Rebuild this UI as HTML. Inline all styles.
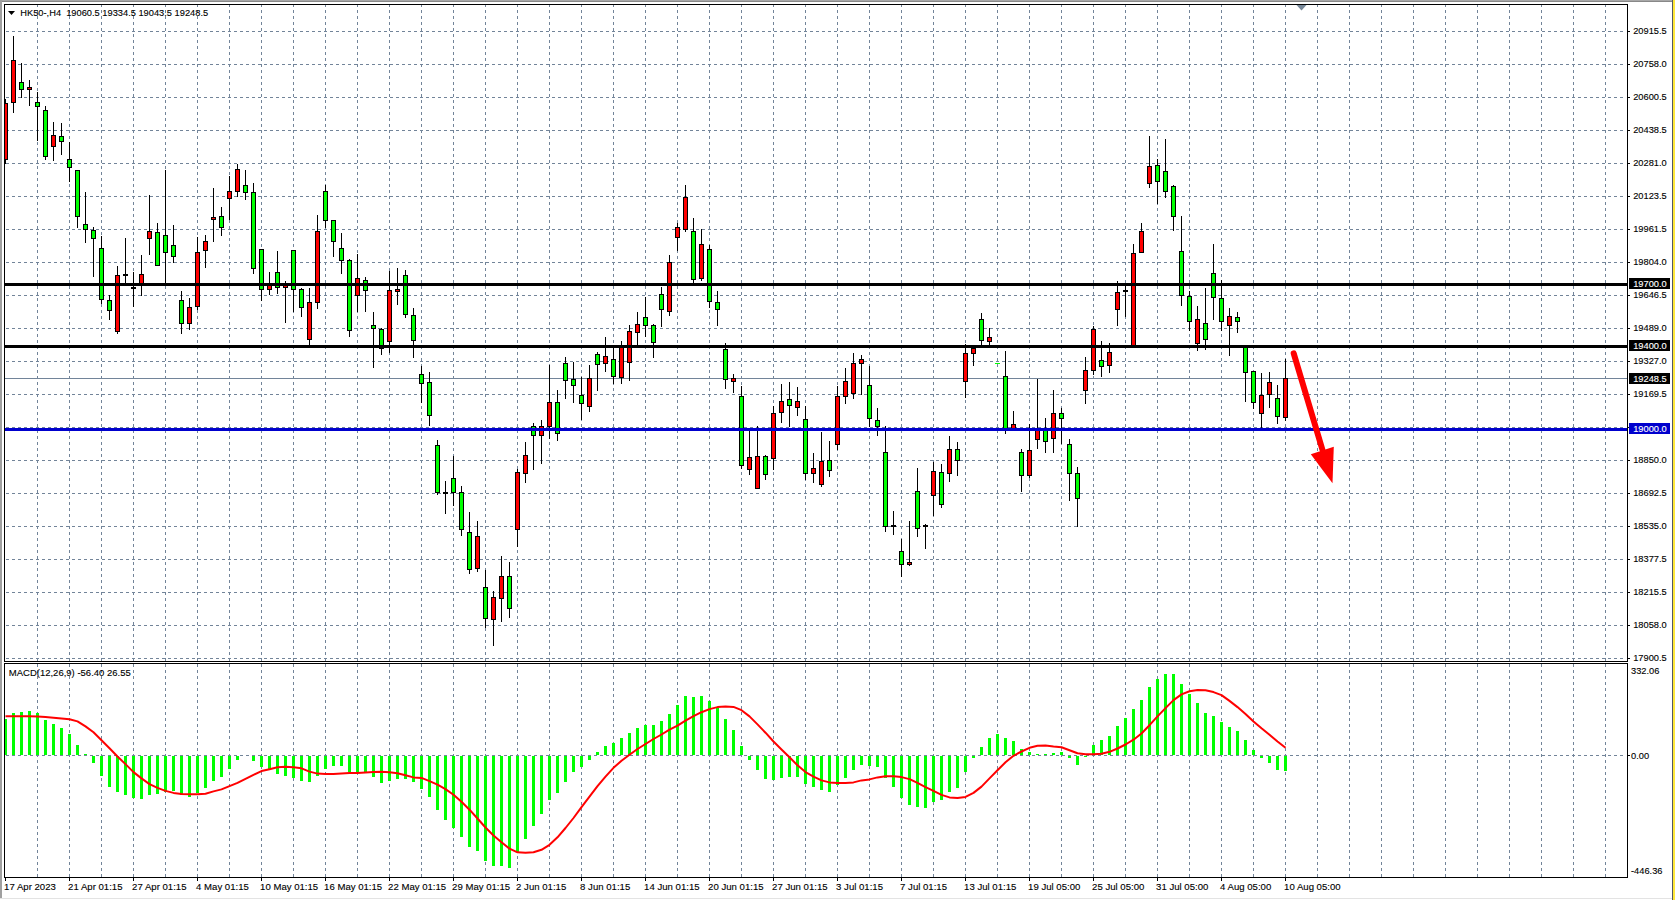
<!DOCTYPE html><html><head><meta charset="utf-8"><title>HK50-,H4</title>
<style>html,body{margin:0;padding:0;background:#fff;overflow:hidden}svg{display:block}text{font-family:"Liberation Sans",sans-serif;fill:#000;stroke:#000;stroke-width:.12px}.g{stroke:#728499;stroke-width:1;stroke-dasharray:3 3;fill:none}.w{fill:#fff}</style></head><body>
<svg width="1675" height="900" viewBox="0 0 1675 900" shape-rendering="crispEdges">
<rect width="1675" height="900" fill="#fff"/>
<rect x="0" y="0" width="1673" height="1" fill="#a8a8a8"/><rect x="0" y="1" width="1673" height="1" fill="#888"/>
<rect x="0" y="0" width="2" height="898" fill="#a0a0a0"/>
<rect x="1672" y="0" width="1" height="900" fill="#555963"/>
<rect x="1673" y="0" width="2" height="900" fill="#ffe83a"/>
<rect x="0" y="898" width="1672" height="1" fill="#e3e3e3"/>
<g class="g">
<path d="M37.5 4V661M37.5 664V877"/>
<path d="M69.5 4V661M69.5 664V877"/>
<path d="M101.5 4V661M101.5 664V877"/>
<path d="M133.5 4V661M133.5 664V877"/>
<path d="M165.5 4V661M165.5 664V877"/>
<path d="M197.5 4V661M197.5 664V877"/>
<path d="M229.5 4V661M229.5 664V877"/>
<path d="M261.5 4V661M261.5 664V877"/>
<path d="M293.5 4V661M293.5 664V877"/>
<path d="M325.5 4V661M325.5 664V877"/>
<path d="M357.5 4V661M357.5 664V877"/>
<path d="M389.5 4V661M389.5 664V877"/>
<path d="M421.5 4V661M421.5 664V877"/>
<path d="M453.5 4V661M453.5 664V877"/>
<path d="M485.5 4V661M485.5 664V877"/>
<path d="M517.5 4V661M517.5 664V877"/>
<path d="M549.5 4V661M549.5 664V877"/>
<path d="M581.5 4V661M581.5 664V877"/>
<path d="M613.5 4V661M613.5 664V877"/>
<path d="M645.5 4V661M645.5 664V877"/>
<path d="M677.5 4V661M677.5 664V877"/>
<path d="M709.5 4V661M709.5 664V877"/>
<path d="M741.5 4V661M741.5 664V877"/>
<path d="M773.5 4V661M773.5 664V877"/>
<path d="M805.5 4V661M805.5 664V877"/>
<path d="M837.5 4V661M837.5 664V877"/>
<path d="M869.5 4V661M869.5 664V877"/>
<path d="M901.5 4V661M901.5 664V877"/>
<path d="M933.5 4V661M933.5 664V877"/>
<path d="M965.5 4V661M965.5 664V877"/>
<path d="M997.5 4V661M997.5 664V877"/>
<path d="M1029.5 4V661M1029.5 664V877"/>
<path d="M1061.5 4V661M1061.5 664V877"/>
<path d="M1093.5 4V661M1093.5 664V877"/>
<path d="M1125.5 4V661M1125.5 664V877"/>
<path d="M1157.5 4V661M1157.5 664V877"/>
<path d="M1189.5 4V661M1189.5 664V877"/>
<path d="M1221.5 4V661M1221.5 664V877"/>
<path d="M1253.5 4V661M1253.5 664V877"/>
<path d="M1285.5 4V661M1285.5 664V877"/>
<path d="M1317.5 4V661M1317.5 664V877"/>
<path d="M1349.5 4V661M1349.5 664V877"/>
<path d="M1381.5 4V661M1381.5 664V877"/>
<path d="M1413.5 4V661M1413.5 664V877"/>
<path d="M1445.5 4V661M1445.5 664V877"/>
<path d="M1477.5 4V661M1477.5 664V877"/>
<path d="M1509.5 4V661M1509.5 664V877"/>
<path d="M1541.5 4V661M1541.5 664V877"/>
<path d="M1573.5 4V661M1573.5 664V877"/>
<path d="M1605.5 4V661M1605.5 664V877"/>
<path d="M6 31.5H1626"/>
<path d="M6 64.5H1626"/>
<path d="M6 97.5H1626"/>
<path d="M6 130.5H1626"/>
<path d="M6 163.5H1626"/>
<path d="M6 196.5H1626"/>
<path d="M6 229.5H1626"/>
<path d="M6 262.5H1626"/>
<path d="M6 295.5H1626"/>
<path d="M6 328.5H1626"/>
<path d="M6 361.5H1626"/>
<path d="M6 394.5H1626"/>
<path d="M6 427.5H1626"/>
<path d="M6 460.5H1626"/>
<path d="M6 493.5H1626"/>
<path d="M6 526.5H1626"/>
<path d="M6 559.5H1626"/>
<path d="M6 592.5H1626"/>
<path d="M6 625.5H1626"/>
<path d="M6 658.5H1626"/>
<path d="M6 755.5H1626"/>
</g>
<rect x="5" y="378" width="1622" height="1" fill="#728499"/>
<rect x="5" y="99" width="1" height="65"/>
<rect x="3" y="103" width="5" height="57"/>
<rect x="4" y="104" width="3" height="55" fill="#ff0000"/>
<rect x="13" y="36" width="1" height="77"/>
<rect x="11" y="60" width="5" height="43"/>
<rect x="12" y="61" width="3" height="41" fill="#ff0000"/>
<rect x="21" y="63" width="1" height="35"/>
<rect x="19" y="82" width="5" height="8"/>
<rect x="20" y="83" width="3" height="6" fill="#00ff00"/>
<rect x="29" y="80" width="1" height="26"/>
<rect x="27" y="87" width="5" height="3"/>
<rect x="28" y="88" width="3" height="1" fill="#ff0000"/>
<rect x="37" y="92" width="1" height="49"/>
<rect x="35" y="102" width="5" height="5"/>
<rect x="36" y="103" width="3" height="3" fill="#00ff00"/>
<rect x="45" y="106" width="1" height="54"/>
<rect x="43" y="110" width="5" height="47"/>
<rect x="44" y="111" width="3" height="45" fill="#00ff00"/>
<rect x="53" y="122" width="1" height="39"/>
<rect x="51" y="135" width="5" height="12"/>
<rect x="52" y="136" width="3" height="10" fill="#ff0000"/>
<rect x="61" y="123" width="1" height="32"/>
<rect x="59" y="136" width="5" height="6"/>
<rect x="60" y="137" width="3" height="4" fill="#00ff00"/>
<rect x="69" y="142" width="1" height="40"/>
<rect x="67" y="159" width="5" height="9"/>
<rect x="68" y="160" width="3" height="7" fill="#00ff00"/>
<rect x="77" y="170" width="1" height="58"/>
<rect x="75" y="170" width="5" height="47"/>
<rect x="76" y="171" width="3" height="45" fill="#00ff00"/>
<rect x="85" y="192" width="1" height="51"/>
<rect x="83" y="224" width="5" height="6"/>
<rect x="84" y="225" width="3" height="4" fill="#00ff00"/>
<rect x="93" y="227" width="1" height="50"/>
<rect x="91" y="230" width="5" height="9"/>
<rect x="92" y="231" width="3" height="7" fill="#00ff00"/>
<rect x="101" y="236" width="1" height="68"/>
<rect x="99" y="248" width="5" height="52"/>
<rect x="100" y="249" width="3" height="50" fill="#00ff00"/>
<rect x="109" y="295" width="1" height="25"/>
<rect x="107" y="300" width="5" height="11"/>
<rect x="108" y="301" width="3" height="9" fill="#00ff00"/>
<rect x="117" y="266" width="1" height="68"/>
<rect x="115" y="275" width="5" height="57"/>
<rect x="116" y="276" width="3" height="55" fill="#ff0000"/>
<rect x="125" y="238" width="1" height="46"/>
<rect x="123" y="274" width="5" height="2"/>
<rect x="133" y="272" width="1" height="35"/>
<rect x="131" y="287" width="5" height="2"/>
<rect x="141" y="255" width="1" height="41"/>
<rect x="139" y="274" width="5" height="12"/>
<rect x="140" y="275" width="3" height="10" fill="#ff0000"/>
<rect x="149" y="195" width="1" height="60"/>
<rect x="147" y="231" width="5" height="8"/>
<rect x="148" y="232" width="3" height="6" fill="#ff0000"/>
<rect x="157" y="223" width="1" height="43"/>
<rect x="155" y="232" width="5" height="34"/>
<rect x="156" y="233" width="3" height="32" fill="#00ff00"/>
<rect x="165" y="170" width="1" height="114"/>
<rect x="163" y="235" width="5" height="18"/>
<rect x="164" y="236" width="3" height="16" fill="#00ff00"/>
<rect x="173" y="225" width="1" height="38"/>
<rect x="171" y="245" width="5" height="12"/>
<rect x="172" y="246" width="3" height="10" fill="#00ff00"/>
<rect x="181" y="291" width="1" height="43"/>
<rect x="179" y="300" width="5" height="24"/>
<rect x="180" y="301" width="3" height="22" fill="#00ff00"/>
<rect x="189" y="298" width="1" height="32"/>
<rect x="187" y="307" width="5" height="17"/>
<rect x="188" y="308" width="3" height="15" fill="#ff0000"/>
<rect x="197" y="237" width="1" height="73"/>
<rect x="195" y="252" width="5" height="55"/>
<rect x="196" y="253" width="3" height="53" fill="#ff0000"/>
<rect x="205" y="235" width="1" height="33"/>
<rect x="203" y="241" width="5" height="10"/>
<rect x="204" y="242" width="3" height="8" fill="#ff0000"/>
<rect x="213" y="188" width="1" height="54"/>
<rect x="211" y="217" width="5" height="3"/>
<rect x="212" y="218" width="3" height="1" fill="#ff0000"/>
<rect x="221" y="207" width="1" height="29"/>
<rect x="219" y="216" width="5" height="12"/>
<rect x="220" y="217" width="3" height="10" fill="#00ff00"/>
<rect x="229" y="176" width="1" height="44"/>
<rect x="227" y="191" width="5" height="8"/>
<rect x="228" y="192" width="3" height="6" fill="#ff0000"/>
<rect x="237" y="164" width="1" height="33"/>
<rect x="235" y="169" width="5" height="23"/>
<rect x="236" y="170" width="3" height="21" fill="#ff0000"/>
<rect x="245" y="170" width="1" height="30"/>
<rect x="243" y="185" width="5" height="8"/>
<rect x="244" y="186" width="3" height="6" fill="#00ff00"/>
<rect x="253" y="183" width="1" height="91"/>
<rect x="251" y="192" width="5" height="77"/>
<rect x="252" y="193" width="3" height="75" fill="#00ff00"/>
<rect x="261" y="249" width="1" height="52"/>
<rect x="259" y="249" width="5" height="41"/>
<rect x="260" y="250" width="3" height="39" fill="#00ff00"/>
<rect x="269" y="272" width="1" height="23"/>
<rect x="267" y="285" width="5" height="5"/>
<rect x="268" y="286" width="3" height="3" fill="#ff0000"/>
<rect x="277" y="251" width="1" height="43"/>
<rect x="275" y="272" width="5" height="16"/>
<rect x="276" y="273" width="3" height="14" fill="#00ff00"/>
<rect x="285" y="281" width="1" height="42"/>
<rect x="283" y="285" width="5" height="3"/>
<rect x="284" y="286" width="3" height="1" fill="#ff0000"/>
<rect x="293" y="250" width="1" height="62"/>
<rect x="291" y="250" width="5" height="40"/>
<rect x="292" y="251" width="3" height="38" fill="#00ff00"/>
<rect x="301" y="288" width="1" height="29"/>
<rect x="299" y="289" width="5" height="19"/>
<rect x="300" y="290" width="3" height="17" fill="#00ff00"/>
<rect x="309" y="288" width="1" height="59"/>
<rect x="307" y="302" width="5" height="38"/>
<rect x="308" y="303" width="3" height="36" fill="#ff0000"/>
<rect x="317" y="215" width="1" height="94"/>
<rect x="315" y="231" width="5" height="72"/>
<rect x="316" y="232" width="3" height="70" fill="#ff0000"/>
<rect x="325" y="185" width="1" height="43"/>
<rect x="323" y="191" width="5" height="30"/>
<rect x="324" y="192" width="3" height="28" fill="#00ff00"/>
<rect x="333" y="220" width="1" height="37"/>
<rect x="331" y="220" width="5" height="22"/>
<rect x="332" y="221" width="3" height="20" fill="#00ff00"/>
<rect x="341" y="233" width="1" height="41"/>
<rect x="339" y="248" width="5" height="13"/>
<rect x="340" y="249" width="3" height="11" fill="#00ff00"/>
<rect x="349" y="259" width="1" height="78"/>
<rect x="347" y="260" width="5" height="71"/>
<rect x="348" y="261" width="3" height="69" fill="#00ff00"/>
<rect x="357" y="254" width="1" height="58"/>
<rect x="355" y="278" width="5" height="18"/>
<rect x="356" y="279" width="3" height="16" fill="#ff0000"/>
<rect x="365" y="277" width="1" height="35"/>
<rect x="363" y="280" width="5" height="11"/>
<rect x="364" y="281" width="3" height="9" fill="#00ff00"/>
<rect x="373" y="312" width="1" height="56"/>
<rect x="371" y="325" width="5" height="4"/>
<rect x="372" y="326" width="3" height="2" fill="#00ff00"/>
<rect x="381" y="328" width="1" height="27"/>
<rect x="379" y="329" width="5" height="20"/>
<rect x="380" y="330" width="3" height="18" fill="#00ff00"/>
<rect x="389" y="271" width="1" height="82"/>
<rect x="387" y="290" width="5" height="52"/>
<rect x="388" y="291" width="3" height="50" fill="#ff0000"/>
<rect x="397" y="268" width="1" height="37"/>
<rect x="395" y="289" width="5" height="3"/>
<rect x="396" y="290" width="3" height="1" fill="#ff0000"/>
<rect x="405" y="270" width="1" height="48"/>
<rect x="403" y="275" width="5" height="40"/>
<rect x="404" y="276" width="3" height="38" fill="#00ff00"/>
<rect x="413" y="308" width="1" height="50"/>
<rect x="411" y="315" width="5" height="26"/>
<rect x="412" y="316" width="3" height="24" fill="#00ff00"/>
<rect x="421" y="366" width="1" height="37"/>
<rect x="419" y="374" width="5" height="10"/>
<rect x="420" y="375" width="3" height="8" fill="#00ff00"/>
<rect x="429" y="372" width="1" height="54"/>
<rect x="427" y="382" width="5" height="34"/>
<rect x="428" y="383" width="3" height="32" fill="#00ff00"/>
<rect x="437" y="440" width="1" height="55"/>
<rect x="435" y="445" width="5" height="48"/>
<rect x="436" y="446" width="3" height="46" fill="#00ff00"/>
<rect x="445" y="481" width="1" height="33"/>
<rect x="443" y="492" width="5" height="2"/>
<rect x="453" y="456" width="1" height="50"/>
<rect x="451" y="478" width="5" height="15"/>
<rect x="452" y="479" width="3" height="13" fill="#00ff00"/>
<rect x="461" y="486" width="1" height="50"/>
<rect x="459" y="492" width="5" height="38"/>
<rect x="460" y="493" width="3" height="36" fill="#00ff00"/>
<rect x="469" y="512" width="1" height="62"/>
<rect x="467" y="532" width="5" height="38"/>
<rect x="468" y="533" width="3" height="36" fill="#00ff00"/>
<rect x="477" y="521" width="1" height="51"/>
<rect x="475" y="536" width="5" height="33"/>
<rect x="476" y="537" width="3" height="31" fill="#ff0000"/>
<rect x="485" y="570" width="1" height="58"/>
<rect x="483" y="587" width="5" height="32"/>
<rect x="484" y="588" width="3" height="30" fill="#00ff00"/>
<rect x="493" y="591" width="1" height="55"/>
<rect x="491" y="597" width="5" height="23"/>
<rect x="492" y="598" width="3" height="21" fill="#ff0000"/>
<rect x="501" y="556" width="1" height="66"/>
<rect x="499" y="576" width="5" height="23"/>
<rect x="500" y="577" width="3" height="21" fill="#ff0000"/>
<rect x="509" y="562" width="1" height="56"/>
<rect x="507" y="576" width="5" height="33"/>
<rect x="508" y="577" width="3" height="31" fill="#00ff00"/>
<rect x="517" y="469" width="1" height="78"/>
<rect x="515" y="472" width="5" height="58"/>
<rect x="516" y="473" width="3" height="56" fill="#ff0000"/>
<rect x="525" y="442" width="1" height="41"/>
<rect x="523" y="455" width="5" height="19"/>
<rect x="524" y="456" width="3" height="17" fill="#ff0000"/>
<rect x="533" y="423" width="1" height="47"/>
<rect x="531" y="426" width="5" height="10"/>
<rect x="532" y="427" width="3" height="8" fill="#00ff00"/>
<rect x="541" y="420" width="1" height="44"/>
<rect x="539" y="426" width="5" height="10"/>
<rect x="540" y="427" width="3" height="8" fill="#ff0000"/>
<rect x="549" y="365" width="1" height="74"/>
<rect x="547" y="402" width="5" height="25"/>
<rect x="548" y="403" width="3" height="23" fill="#ff0000"/>
<rect x="557" y="390" width="1" height="51"/>
<rect x="555" y="402" width="5" height="32"/>
<rect x="556" y="403" width="3" height="30" fill="#00ff00"/>
<rect x="565" y="357" width="1" height="42"/>
<rect x="563" y="363" width="5" height="18"/>
<rect x="564" y="364" width="3" height="16" fill="#00ff00"/>
<rect x="573" y="362" width="1" height="41"/>
<rect x="571" y="379" width="5" height="7"/>
<rect x="572" y="380" width="3" height="5" fill="#00ff00"/>
<rect x="581" y="377" width="1" height="43"/>
<rect x="579" y="395" width="5" height="9"/>
<rect x="580" y="396" width="3" height="7" fill="#00ff00"/>
<rect x="589" y="365" width="1" height="47"/>
<rect x="587" y="378" width="5" height="29"/>
<rect x="588" y="379" width="3" height="27" fill="#ff0000"/>
<rect x="597" y="352" width="1" height="39"/>
<rect x="595" y="354" width="5" height="11"/>
<rect x="596" y="355" width="3" height="9" fill="#00ff00"/>
<rect x="605" y="337" width="1" height="35"/>
<rect x="603" y="356" width="5" height="8"/>
<rect x="604" y="357" width="3" height="6" fill="#ff0000"/>
<rect x="613" y="347" width="1" height="37"/>
<rect x="611" y="359" width="5" height="18"/>
<rect x="612" y="360" width="3" height="16" fill="#00ff00"/>
<rect x="621" y="341" width="1" height="43"/>
<rect x="619" y="347" width="5" height="31"/>
<rect x="620" y="348" width="3" height="29" fill="#ff0000"/>
<rect x="629" y="325" width="1" height="56"/>
<rect x="627" y="331" width="5" height="32"/>
<rect x="628" y="332" width="3" height="30" fill="#ff0000"/>
<rect x="637" y="312" width="1" height="34"/>
<rect x="635" y="324" width="5" height="9"/>
<rect x="636" y="325" width="3" height="7" fill="#ff0000"/>
<rect x="645" y="297" width="1" height="40"/>
<rect x="643" y="317" width="5" height="9"/>
<rect x="644" y="318" width="3" height="7" fill="#00ff00"/>
<rect x="653" y="324" width="1" height="34"/>
<rect x="651" y="325" width="5" height="18"/>
<rect x="652" y="326" width="3" height="16" fill="#00ff00"/>
<rect x="661" y="287" width="1" height="40"/>
<rect x="659" y="294" width="5" height="16"/>
<rect x="660" y="295" width="3" height="14" fill="#00ff00"/>
<rect x="669" y="255" width="1" height="61"/>
<rect x="667" y="262" width="5" height="50"/>
<rect x="668" y="263" width="3" height="48" fill="#ff0000"/>
<rect x="677" y="223" width="1" height="28"/>
<rect x="675" y="227" width="5" height="11"/>
<rect x="676" y="228" width="3" height="9" fill="#ff0000"/>
<rect x="685" y="185" width="1" height="47"/>
<rect x="683" y="197" width="5" height="33"/>
<rect x="684" y="198" width="3" height="31" fill="#ff0000"/>
<rect x="693" y="218" width="1" height="65"/>
<rect x="691" y="231" width="5" height="49"/>
<rect x="692" y="232" width="3" height="47" fill="#00ff00"/>
<rect x="701" y="229" width="1" height="52"/>
<rect x="699" y="244" width="5" height="35"/>
<rect x="700" y="245" width="3" height="33" fill="#ff0000"/>
<rect x="709" y="245" width="1" height="63"/>
<rect x="707" y="249" width="5" height="53"/>
<rect x="708" y="250" width="3" height="51" fill="#00ff00"/>
<rect x="717" y="291" width="1" height="35"/>
<rect x="715" y="302" width="5" height="8"/>
<rect x="716" y="303" width="3" height="6" fill="#00ff00"/>
<rect x="725" y="343" width="1" height="46"/>
<rect x="723" y="349" width="5" height="31"/>
<rect x="724" y="350" width="3" height="29" fill="#00ff00"/>
<rect x="733" y="374" width="1" height="19"/>
<rect x="731" y="378" width="5" height="4"/>
<rect x="732" y="379" width="3" height="2" fill="#ff0000"/>
<rect x="741" y="386" width="1" height="83"/>
<rect x="739" y="396" width="5" height="70"/>
<rect x="740" y="397" width="3" height="68" fill="#00ff00"/>
<rect x="749" y="430" width="1" height="45"/>
<rect x="747" y="457" width="5" height="13"/>
<rect x="748" y="458" width="3" height="11" fill="#ff0000"/>
<rect x="757" y="426" width="1" height="63"/>
<rect x="755" y="456" width="5" height="33"/>
<rect x="756" y="457" width="3" height="31" fill="#ff0000"/>
<rect x="765" y="455" width="1" height="25"/>
<rect x="763" y="456" width="5" height="19"/>
<rect x="764" y="457" width="3" height="17" fill="#00ff00"/>
<rect x="773" y="406" width="1" height="64"/>
<rect x="771" y="413" width="5" height="46"/>
<rect x="772" y="414" width="3" height="44" fill="#ff0000"/>
<rect x="781" y="384" width="1" height="39"/>
<rect x="779" y="401" width="5" height="12"/>
<rect x="780" y="402" width="3" height="10" fill="#ff0000"/>
<rect x="789" y="382" width="1" height="45"/>
<rect x="787" y="399" width="5" height="7"/>
<rect x="788" y="400" width="3" height="5" fill="#00ff00"/>
<rect x="797" y="387" width="1" height="29"/>
<rect x="795" y="401" width="5" height="7"/>
<rect x="796" y="402" width="3" height="5" fill="#ff0000"/>
<rect x="805" y="406" width="1" height="74"/>
<rect x="803" y="419" width="5" height="55"/>
<rect x="804" y="420" width="3" height="53" fill="#00ff00"/>
<rect x="813" y="453" width="1" height="30"/>
<rect x="811" y="468" width="5" height="6"/>
<rect x="812" y="469" width="3" height="4" fill="#ff0000"/>
<rect x="821" y="432" width="1" height="55"/>
<rect x="819" y="461" width="5" height="24"/>
<rect x="820" y="462" width="3" height="22" fill="#ff0000"/>
<rect x="829" y="441" width="1" height="36"/>
<rect x="827" y="460" width="5" height="11"/>
<rect x="828" y="461" width="3" height="9" fill="#00ff00"/>
<rect x="837" y="386" width="1" height="64"/>
<rect x="835" y="396" width="5" height="49"/>
<rect x="836" y="397" width="3" height="47" fill="#ff0000"/>
<rect x="845" y="368" width="1" height="36"/>
<rect x="843" y="381" width="5" height="16"/>
<rect x="844" y="382" width="3" height="14" fill="#ff0000"/>
<rect x="853" y="353" width="1" height="46"/>
<rect x="851" y="363" width="5" height="31"/>
<rect x="852" y="364" width="3" height="29" fill="#ff0000"/>
<rect x="861" y="355" width="1" height="40"/>
<rect x="859" y="359" width="5" height="5"/>
<rect x="860" y="360" width="3" height="3" fill="#ff0000"/>
<rect x="869" y="366" width="1" height="61"/>
<rect x="867" y="385" width="5" height="34"/>
<rect x="868" y="386" width="3" height="32" fill="#00ff00"/>
<rect x="877" y="408" width="1" height="28"/>
<rect x="875" y="420" width="5" height="7"/>
<rect x="876" y="421" width="3" height="5" fill="#00ff00"/>
<rect x="885" y="426" width="1" height="106"/>
<rect x="883" y="452" width="5" height="75"/>
<rect x="884" y="453" width="3" height="73" fill="#00ff00"/>
<rect x="893" y="511" width="1" height="24"/>
<rect x="891" y="525" width="5" height="2"/>
<rect x="901" y="539" width="1" height="38"/>
<rect x="899" y="551" width="5" height="14"/>
<rect x="900" y="552" width="3" height="12" fill="#00ff00"/>
<rect x="909" y="521" width="1" height="45"/>
<rect x="907" y="562" width="5" height="3"/>
<rect x="908" y="563" width="3" height="1" fill="#ff0000"/>
<rect x="917" y="468" width="1" height="69"/>
<rect x="915" y="491" width="5" height="38"/>
<rect x="916" y="492" width="3" height="36" fill="#00ff00"/>
<rect x="925" y="524" width="1" height="25"/>
<rect x="923" y="525" width="5" height="2"/>
<rect x="933" y="462" width="1" height="54"/>
<rect x="931" y="471" width="5" height="25"/>
<rect x="932" y="472" width="3" height="23" fill="#ff0000"/>
<rect x="941" y="464" width="1" height="44"/>
<rect x="939" y="472" width="5" height="33"/>
<rect x="940" y="473" width="3" height="31" fill="#00ff00"/>
<rect x="949" y="436" width="1" height="46"/>
<rect x="947" y="449" width="5" height="25"/>
<rect x="948" y="450" width="3" height="23" fill="#ff0000"/>
<rect x="957" y="442" width="1" height="34"/>
<rect x="955" y="449" width="5" height="12"/>
<rect x="956" y="450" width="3" height="10" fill="#00ff00"/>
<rect x="965" y="344" width="1" height="54"/>
<rect x="963" y="353" width="5" height="29"/>
<rect x="964" y="354" width="3" height="27" fill="#ff0000"/>
<rect x="973" y="347" width="1" height="19"/>
<rect x="971" y="348" width="5" height="6"/>
<rect x="972" y="349" width="3" height="4" fill="#ff0000"/>
<rect x="981" y="313" width="1" height="33"/>
<rect x="979" y="319" width="5" height="22"/>
<rect x="980" y="320" width="3" height="20" fill="#00ff00"/>
<rect x="989" y="328" width="1" height="18"/>
<rect x="987" y="337" width="5" height="5"/>
<rect x="988" y="338" width="3" height="3" fill="#ff0000"/>
<rect x="1005" y="351" width="1" height="83"/>
<rect x="1003" y="376" width="5" height="53"/>
<rect x="1004" y="377" width="3" height="51" fill="#00ff00"/>
<rect x="1013" y="411" width="1" height="20"/>
<rect x="1011" y="424" width="5" height="6"/>
<rect x="1012" y="425" width="3" height="4" fill="#ff0000"/>
<rect x="1021" y="449" width="1" height="43"/>
<rect x="1019" y="452" width="5" height="24"/>
<rect x="1020" y="453" width="3" height="22" fill="#00ff00"/>
<rect x="1029" y="424" width="1" height="54"/>
<rect x="1027" y="450" width="5" height="26"/>
<rect x="1028" y="451" width="3" height="24" fill="#ff0000"/>
<rect x="1037" y="379" width="1" height="70"/>
<rect x="1035" y="430" width="5" height="10"/>
<rect x="1036" y="431" width="3" height="8" fill="#ff0000"/>
<rect x="1045" y="418" width="1" height="35"/>
<rect x="1043" y="428" width="5" height="14"/>
<rect x="1044" y="429" width="3" height="12" fill="#00ff00"/>
<rect x="1053" y="390" width="1" height="63"/>
<rect x="1051" y="413" width="5" height="26"/>
<rect x="1052" y="414" width="3" height="24" fill="#ff0000"/>
<rect x="1061" y="408" width="1" height="36"/>
<rect x="1059" y="413" width="5" height="6"/>
<rect x="1060" y="414" width="3" height="4" fill="#00ff00"/>
<rect x="1069" y="439" width="1" height="62"/>
<rect x="1067" y="444" width="5" height="30"/>
<rect x="1068" y="445" width="3" height="28" fill="#00ff00"/>
<rect x="1077" y="467" width="1" height="60"/>
<rect x="1075" y="473" width="5" height="26"/>
<rect x="1076" y="474" width="3" height="24" fill="#00ff00"/>
<rect x="1085" y="357" width="1" height="47"/>
<rect x="1083" y="370" width="5" height="21"/>
<rect x="1084" y="371" width="3" height="19" fill="#ff0000"/>
<rect x="1093" y="326" width="1" height="49"/>
<rect x="1091" y="329" width="5" height="42"/>
<rect x="1092" y="330" width="3" height="40" fill="#ff0000"/>
<rect x="1101" y="341" width="1" height="36"/>
<rect x="1099" y="360" width="5" height="7"/>
<rect x="1100" y="361" width="3" height="5" fill="#00ff00"/>
<rect x="1109" y="343" width="1" height="30"/>
<rect x="1107" y="352" width="5" height="14"/>
<rect x="1108" y="353" width="3" height="12" fill="#ff0000"/>
<rect x="1117" y="281" width="1" height="45"/>
<rect x="1115" y="292" width="5" height="18"/>
<rect x="1116" y="293" width="3" height="16" fill="#ff0000"/>
<rect x="1125" y="285" width="1" height="32"/>
<rect x="1123" y="290" width="5" height="2"/>
<rect x="1133" y="244" width="1" height="103"/>
<rect x="1131" y="253" width="5" height="94"/>
<rect x="1132" y="254" width="3" height="92" fill="#ff0000"/>
<rect x="1141" y="223" width="1" height="30"/>
<rect x="1139" y="231" width="5" height="22"/>
<rect x="1140" y="232" width="3" height="20" fill="#ff0000"/>
<rect x="1149" y="136" width="1" height="52"/>
<rect x="1147" y="166" width="5" height="18"/>
<rect x="1148" y="167" width="3" height="16" fill="#ff0000"/>
<rect x="1157" y="159" width="1" height="45"/>
<rect x="1155" y="165" width="5" height="17"/>
<rect x="1156" y="166" width="3" height="15" fill="#00ff00"/>
<rect x="1165" y="139" width="1" height="59"/>
<rect x="1163" y="171" width="5" height="21"/>
<rect x="1164" y="172" width="3" height="19" fill="#00ff00"/>
<rect x="1173" y="185" width="1" height="46"/>
<rect x="1171" y="186" width="5" height="31"/>
<rect x="1172" y="187" width="3" height="29" fill="#00ff00"/>
<rect x="1181" y="216" width="1" height="90"/>
<rect x="1179" y="251" width="5" height="45"/>
<rect x="1180" y="252" width="3" height="43" fill="#00ff00"/>
<rect x="1189" y="291" width="1" height="40"/>
<rect x="1187" y="296" width="5" height="26"/>
<rect x="1188" y="297" width="3" height="24" fill="#00ff00"/>
<rect x="1197" y="306" width="1" height="45"/>
<rect x="1195" y="319" width="5" height="25"/>
<rect x="1196" y="320" width="3" height="23" fill="#ff0000"/>
<rect x="1205" y="288" width="1" height="62"/>
<rect x="1203" y="323" width="5" height="17"/>
<rect x="1204" y="324" width="3" height="15" fill="#00ff00"/>
<rect x="1213" y="244" width="1" height="76"/>
<rect x="1211" y="273" width="5" height="25"/>
<rect x="1212" y="274" width="3" height="23" fill="#00ff00"/>
<rect x="1221" y="280" width="1" height="51"/>
<rect x="1219" y="298" width="5" height="24"/>
<rect x="1220" y="299" width="3" height="22" fill="#00ff00"/>
<rect x="1229" y="308" width="1" height="48"/>
<rect x="1227" y="316" width="5" height="10"/>
<rect x="1228" y="317" width="3" height="8" fill="#ff0000"/>
<rect x="1237" y="312" width="1" height="21"/>
<rect x="1235" y="317" width="5" height="5"/>
<rect x="1236" y="318" width="3" height="3" fill="#00ff00"/>
<rect x="1245" y="346" width="1" height="56"/>
<rect x="1243" y="346" width="5" height="27"/>
<rect x="1244" y="347" width="3" height="25" fill="#00ff00"/>
<rect x="1253" y="371" width="1" height="38"/>
<rect x="1251" y="371" width="5" height="32"/>
<rect x="1252" y="372" width="3" height="30" fill="#00ff00"/>
<rect x="1261" y="373" width="1" height="55"/>
<rect x="1259" y="395" width="5" height="19"/>
<rect x="1260" y="396" width="3" height="17" fill="#ff0000"/>
<rect x="1269" y="372" width="1" height="36"/>
<rect x="1267" y="382" width="5" height="13"/>
<rect x="1268" y="383" width="3" height="11" fill="#ff0000"/>
<rect x="1277" y="385" width="1" height="39"/>
<rect x="1275" y="398" width="5" height="19"/>
<rect x="1276" y="399" width="3" height="17" fill="#00ff00"/>
<rect x="1285" y="359" width="1" height="62"/>
<rect x="1283" y="378" width="5" height="40"/>
<rect x="1284" y="379" width="3" height="38" fill="#ff0000"/>
<rect x="995" y="363" width="5" height="1" fill="#00ff00"/>
<rect x="4" y="719" width="3" height="36" fill="#00ff00"/>
<rect x="12" y="713" width="3" height="42" fill="#00ff00"/>
<rect x="20" y="712" width="3" height="43" fill="#00ff00"/>
<rect x="28" y="711" width="3" height="44" fill="#00ff00"/>
<rect x="36" y="713" width="3" height="42" fill="#00ff00"/>
<rect x="44" y="720" width="3" height="35" fill="#00ff00"/>
<rect x="52" y="724" width="3" height="31" fill="#00ff00"/>
<rect x="60" y="728" width="3" height="27" fill="#00ff00"/>
<rect x="68" y="734" width="3" height="21" fill="#00ff00"/>
<rect x="76" y="745" width="3" height="10" fill="#00ff00"/>
<rect x="84" y="754" width="3" height="1" fill="#00ff00"/>
<rect x="92" y="756" width="3" height="7" fill="#00ff00"/>
<rect x="100" y="756" width="3" height="20" fill="#00ff00"/>
<rect x="108" y="756" width="3" height="31" fill="#00ff00"/>
<rect x="116" y="756" width="3" height="36" fill="#00ff00"/>
<rect x="124" y="756" width="3" height="39" fill="#00ff00"/>
<rect x="132" y="756" width="3" height="42" fill="#00ff00"/>
<rect x="140" y="756" width="3" height="43" fill="#00ff00"/>
<rect x="148" y="756" width="3" height="39" fill="#00ff00"/>
<rect x="156" y="756" width="3" height="38" fill="#00ff00"/>
<rect x="164" y="756" width="3" height="36" fill="#00ff00"/>
<rect x="172" y="756" width="3" height="35" fill="#00ff00"/>
<rect x="180" y="756" width="3" height="39" fill="#00ff00"/>
<rect x="188" y="756" width="3" height="41" fill="#00ff00"/>
<rect x="196" y="756" width="3" height="37" fill="#00ff00"/>
<rect x="204" y="756" width="3" height="32" fill="#00ff00"/>
<rect x="212" y="756" width="3" height="25" fill="#00ff00"/>
<rect x="220" y="756" width="3" height="21" fill="#00ff00"/>
<rect x="228" y="756" width="3" height="13" fill="#00ff00"/>
<rect x="236" y="756" width="3" height="4" fill="#00ff00"/>
<rect x="252" y="756" width="3" height="5" fill="#00ff00"/>
<rect x="260" y="756" width="3" height="11" fill="#00ff00"/>
<rect x="268" y="756" width="3" height="14" fill="#00ff00"/>
<rect x="276" y="756" width="3" height="18" fill="#00ff00"/>
<rect x="284" y="756" width="3" height="20" fill="#00ff00"/>
<rect x="292" y="756" width="3" height="22" fill="#00ff00"/>
<rect x="300" y="756" width="3" height="25" fill="#00ff00"/>
<rect x="308" y="756" width="3" height="26" fill="#00ff00"/>
<rect x="316" y="756" width="3" height="20" fill="#00ff00"/>
<rect x="324" y="756" width="3" height="13" fill="#00ff00"/>
<rect x="332" y="756" width="3" height="10" fill="#00ff00"/>
<rect x="340" y="756" width="3" height="10" fill="#00ff00"/>
<rect x="348" y="756" width="3" height="16" fill="#00ff00"/>
<rect x="356" y="756" width="3" height="17" fill="#00ff00"/>
<rect x="364" y="756" width="3" height="17" fill="#00ff00"/>
<rect x="372" y="756" width="3" height="21" fill="#00ff00"/>
<rect x="380" y="756" width="3" height="27" fill="#00ff00"/>
<rect x="388" y="756" width="3" height="25" fill="#00ff00"/>
<rect x="396" y="756" width="3" height="23" fill="#00ff00"/>
<rect x="404" y="756" width="3" height="23" fill="#00ff00"/>
<rect x="412" y="756" width="3" height="26" fill="#00ff00"/>
<rect x="420" y="756" width="3" height="33" fill="#00ff00"/>
<rect x="428" y="756" width="3" height="41" fill="#00ff00"/>
<rect x="436" y="756" width="3" height="54" fill="#00ff00"/>
<rect x="444" y="756" width="3" height="64" fill="#00ff00"/>
<rect x="452" y="756" width="3" height="72" fill="#00ff00"/>
<rect x="460" y="756" width="3" height="81" fill="#00ff00"/>
<rect x="468" y="756" width="3" height="91" fill="#00ff00"/>
<rect x="476" y="756" width="3" height="95" fill="#00ff00"/>
<rect x="484" y="756" width="3" height="105" fill="#00ff00"/>
<rect x="492" y="756" width="3" height="110" fill="#00ff00"/>
<rect x="500" y="756" width="3" height="110" fill="#00ff00"/>
<rect x="508" y="756" width="3" height="112" fill="#00ff00"/>
<rect x="516" y="756" width="3" height="96" fill="#00ff00"/>
<rect x="524" y="756" width="3" height="83" fill="#00ff00"/>
<rect x="532" y="756" width="3" height="70" fill="#00ff00"/>
<rect x="540" y="756" width="3" height="58" fill="#00ff00"/>
<rect x="548" y="756" width="3" height="44" fill="#00ff00"/>
<rect x="556" y="756" width="3" height="37" fill="#00ff00"/>
<rect x="564" y="756" width="3" height="26" fill="#00ff00"/>
<rect x="572" y="756" width="3" height="16" fill="#00ff00"/>
<rect x="580" y="756" width="3" height="11" fill="#00ff00"/>
<rect x="588" y="756" width="3" height="4" fill="#00ff00"/>
<rect x="596" y="752" width="3" height="3" fill="#00ff00"/>
<rect x="604" y="746" width="3" height="9" fill="#00ff00"/>
<rect x="612" y="743" width="3" height="12" fill="#00ff00"/>
<rect x="620" y="738" width="3" height="17" fill="#00ff00"/>
<rect x="628" y="733" width="3" height="22" fill="#00ff00"/>
<rect x="636" y="728" width="3" height="27" fill="#00ff00"/>
<rect x="644" y="725" width="3" height="30" fill="#00ff00"/>
<rect x="652" y="725" width="3" height="30" fill="#00ff00"/>
<rect x="660" y="721" width="3" height="34" fill="#00ff00"/>
<rect x="668" y="714" width="3" height="41" fill="#00ff00"/>
<rect x="676" y="705" width="3" height="50" fill="#00ff00"/>
<rect x="684" y="696" width="3" height="59" fill="#00ff00"/>
<rect x="692" y="697" width="3" height="58" fill="#00ff00"/>
<rect x="700" y="696" width="3" height="59" fill="#00ff00"/>
<rect x="708" y="701" width="3" height="54" fill="#00ff00"/>
<rect x="716" y="708" width="3" height="47" fill="#00ff00"/>
<rect x="724" y="719" width="3" height="36" fill="#00ff00"/>
<rect x="732" y="730" width="3" height="25" fill="#00ff00"/>
<rect x="740" y="746" width="3" height="9" fill="#00ff00"/>
<rect x="748" y="756" width="3" height="4" fill="#00ff00"/>
<rect x="756" y="756" width="3" height="14" fill="#00ff00"/>
<rect x="764" y="756" width="3" height="23" fill="#00ff00"/>
<rect x="772" y="756" width="3" height="24" fill="#00ff00"/>
<rect x="780" y="756" width="3" height="22" fill="#00ff00"/>
<rect x="788" y="756" width="3" height="21" fill="#00ff00"/>
<rect x="796" y="756" width="3" height="21" fill="#00ff00"/>
<rect x="804" y="756" width="3" height="28" fill="#00ff00"/>
<rect x="812" y="756" width="3" height="31" fill="#00ff00"/>
<rect x="820" y="756" width="3" height="34" fill="#00ff00"/>
<rect x="828" y="756" width="3" height="36" fill="#00ff00"/>
<rect x="836" y="756" width="3" height="29" fill="#00ff00"/>
<rect x="844" y="756" width="3" height="22" fill="#00ff00"/>
<rect x="852" y="756" width="3" height="14" fill="#00ff00"/>
<rect x="860" y="756" width="3" height="9" fill="#00ff00"/>
<rect x="868" y="756" width="3" height="10" fill="#00ff00"/>
<rect x="876" y="756" width="3" height="11" fill="#00ff00"/>
<rect x="884" y="756" width="3" height="22" fill="#00ff00"/>
<rect x="892" y="756" width="3" height="31" fill="#00ff00"/>
<rect x="900" y="756" width="3" height="42" fill="#00ff00"/>
<rect x="908" y="756" width="3" height="49" fill="#00ff00"/>
<rect x="916" y="756" width="3" height="51" fill="#00ff00"/>
<rect x="924" y="756" width="3" height="52" fill="#00ff00"/>
<rect x="932" y="756" width="3" height="46" fill="#00ff00"/>
<rect x="940" y="756" width="3" height="44" fill="#00ff00"/>
<rect x="948" y="756" width="3" height="36" fill="#00ff00"/>
<rect x="956" y="756" width="3" height="32" fill="#00ff00"/>
<rect x="964" y="756" width="3" height="16" fill="#00ff00"/>
<rect x="972" y="756" width="3" height="2" fill="#00ff00"/>
<rect x="980" y="747" width="3" height="8" fill="#00ff00"/>
<rect x="988" y="738" width="3" height="17" fill="#00ff00"/>
<rect x="996" y="734" width="3" height="21" fill="#00ff00"/>
<rect x="1004" y="738" width="3" height="17" fill="#00ff00"/>
<rect x="1012" y="741" width="3" height="14" fill="#00ff00"/>
<rect x="1020" y="749" width="3" height="6" fill="#00ff00"/>
<rect x="1028" y="752" width="3" height="3" fill="#00ff00"/>
<rect x="1036" y="754" width="3" height="1" fill="#00ff00"/>
<rect x="1044" y="754" width="3" height="1" fill="#00ff00"/>
<rect x="1052" y="753" width="3" height="2" fill="#00ff00"/>
<rect x="1060" y="752" width="3" height="3" fill="#00ff00"/>
<rect x="1068" y="756" width="3" height="2" fill="#00ff00"/>
<rect x="1076" y="756" width="3" height="9" fill="#00ff00"/>
<rect x="1084" y="756" width="3" height="1" fill="#00ff00"/>
<rect x="1092" y="745" width="3" height="10" fill="#00ff00"/>
<rect x="1100" y="740" width="3" height="15" fill="#00ff00"/>
<rect x="1108" y="736" width="3" height="19" fill="#00ff00"/>
<rect x="1116" y="726" width="3" height="29" fill="#00ff00"/>
<rect x="1124" y="718" width="3" height="37" fill="#00ff00"/>
<rect x="1132" y="709" width="3" height="46" fill="#00ff00"/>
<rect x="1140" y="700" width="3" height="55" fill="#00ff00"/>
<rect x="1148" y="687" width="3" height="68" fill="#00ff00"/>
<rect x="1156" y="679" width="3" height="76" fill="#00ff00"/>
<rect x="1164" y="674" width="3" height="81" fill="#00ff00"/>
<rect x="1172" y="674" width="3" height="81" fill="#00ff00"/>
<rect x="1180" y="684" width="3" height="71" fill="#00ff00"/>
<rect x="1188" y="694" width="3" height="61" fill="#00ff00"/>
<rect x="1196" y="703" width="3" height="52" fill="#00ff00"/>
<rect x="1204" y="713" width="3" height="42" fill="#00ff00"/>
<rect x="1212" y="716" width="3" height="39" fill="#00ff00"/>
<rect x="1220" y="722" width="3" height="33" fill="#00ff00"/>
<rect x="1228" y="727" width="3" height="28" fill="#00ff00"/>
<rect x="1236" y="731" width="3" height="24" fill="#00ff00"/>
<rect x="1244" y="740" width="3" height="15" fill="#00ff00"/>
<rect x="1252" y="750" width="3" height="5" fill="#00ff00"/>
<rect x="1260" y="756" width="3" height="2" fill="#00ff00"/>
<rect x="1268" y="756" width="3" height="7" fill="#00ff00"/>
<rect x="1276" y="756" width="3" height="14" fill="#00ff00"/>
<rect x="1284" y="756" width="3" height="15" fill="#00ff00"/>
<polyline points="5.5,716.2 13.5,716.2 21.5,716.3 29.5,716.3 37.5,716.4 45.5,717 53.5,717.7 61.5,718.4 69.5,719.2 77.5,721.4 85.5,726.4 93.5,732.2 101.5,740.2 109.5,748.3 117.5,756.5 125.5,764.1 133.5,772.1 141.5,778.4 149.5,784.1 157.5,787.9 165.5,790.9 173.5,792.9 181.5,793.9 189.5,794.2 197.5,794.2 205.5,793.7 213.5,791.4 221.5,789.4 229.5,786.1 237.5,782.9 245.5,778.9 253.5,774.8 261.5,771.1 269.5,769.3 277.5,767.3 285.5,766.8 293.5,767.3 301.5,768.3 309.5,771.6 317.5,773.6 325.5,774.1 333.5,774.1 341.5,773.6 349.5,773.1 357.5,773.1 365.5,772.6 373.5,772.1 381.5,771.8 389.5,772.3 397.5,773.3 405.5,775.3 413.5,777.4 421.5,777.9 429.5,781.1 437.5,784.6 445.5,789.1 453.5,794.7 461.5,801.7 469.5,809.7 477.5,818.5 485.5,827.5 493.5,835.5 501.5,842.3 509.5,848.6 517.5,852.3 525.5,852.8 533.5,852.3 541.5,849.8 549.5,844.8 557.5,837.3 565.5,828 573.5,818 581.5,807.2 589.5,796.7 597.5,786.1 605.5,776.6 613.5,767.8 621.5,760.8 629.5,754.8 637.5,749 645.5,744 653.5,739 661.5,734.5 669.5,729.7 677.5,725.7 685.5,720.7 693.5,716.2 701.5,712.2 709.5,709.1 717.5,707.1 725.5,706.6 733.5,706.9 741.5,710.2 749.5,716.4 757.5,724.4 765.5,732.7 773.5,741.5 781.5,749.5 789.5,757.3 797.5,765.3 805.5,772.1 813.5,776.6 821.5,780.4 829.5,782.4 837.5,782.9 845.5,782.9 853.5,782.4 861.5,780.4 869.5,779.4 877.5,777.4 885.5,776.3 893.5,776.3 901.5,777.1 909.5,779.1 917.5,782.9 925.5,787.1 933.5,790.9 941.5,794.9 949.5,797.4 957.5,797.9 965.5,796.9 973.5,792.9 981.5,786.6 989.5,778.4 997.5,770.3 1005.5,762.3 1013.5,755.8 1021.5,751.5 1029.5,747.8 1037.5,745.8 1045.5,745.5 1053.5,746.5 1061.5,747.3 1069.5,750.3 1077.5,753.3 1085.5,754.3 1093.5,754.3 1101.5,753.8 1109.5,751.8 1117.5,748.5 1125.5,744.5 1133.5,739.7 1141.5,733.5 1149.5,725.2 1157.5,716.4 1165.5,708.1 1173.5,700.1 1181.5,694.4 1189.5,691.3 1197.5,690.1 1205.5,690.3 1213.5,692.1 1221.5,695.1 1229.5,700.9 1237.5,707.1 1245.5,713.9 1253.5,721.4 1261.5,728.2 1269.5,734.7 1277.5,741.5 1285.5,747.8" fill="none" stroke="#ff0000" stroke-width="2" stroke-linejoin="round" shape-rendering="auto"/>
<rect x="5" y="283" width="1622" height="3"/>
<rect x="5" y="345" width="1622" height="3"/>
<rect x="5" y="428" width="1622" height="3" fill="#0000cd"/>
<rect x="2" y="2" width="2" height="896" class="w"/>
<rect x="4" y="4" width="1" height="874"/>
<rect x="4" y="4" width="1624" height="1"/>
<rect x="1627" y="4" width="1" height="874"/>
<rect x="4" y="661" width="1624" height="1"/>
<rect x="4" y="662" width="1624" height="1" class="w"/>
<rect x="4" y="663" width="1624" height="1"/>
<rect x="4" y="877" width="1624" height="1"/>
<path d="M1296.5 5H1306.5L1301.5 10.5Z" fill="#778899" shape-rendering="auto"/>
<rect x="1628" y="31" width="2" height="1"/>
<text transform="translate(1633.2 34.3) scale(0.9615 1)" font-size="9.672" xml:space="preserve">20915.5</text>
<rect x="1628" y="64" width="2" height="1"/>
<text transform="translate(1633.2 67.3) scale(0.9615 1)" font-size="9.672" xml:space="preserve">20758.0</text>
<rect x="1628" y="97" width="2" height="1"/>
<text transform="translate(1633.2 100.3) scale(0.9615 1)" font-size="9.672" xml:space="preserve">20600.5</text>
<rect x="1628" y="130" width="2" height="1"/>
<text transform="translate(1633.2 133.3) scale(0.9615 1)" font-size="9.672" xml:space="preserve">20438.5</text>
<rect x="1628" y="163" width="2" height="1"/>
<text transform="translate(1633.2 166.3) scale(0.9615 1)" font-size="9.672" xml:space="preserve">20281.0</text>
<rect x="1628" y="196" width="2" height="1"/>
<text transform="translate(1633.2 199.3) scale(0.9615 1)" font-size="9.672" xml:space="preserve">20123.5</text>
<rect x="1628" y="229" width="2" height="1"/>
<text transform="translate(1633.2 232.3) scale(0.9615 1)" font-size="9.672" xml:space="preserve">19961.5</text>
<rect x="1628" y="262" width="2" height="1"/>
<text transform="translate(1633.2 265.3) scale(0.9615 1)" font-size="9.672" xml:space="preserve">19804.0</text>
<rect x="1628" y="295" width="2" height="1"/>
<text transform="translate(1633.2 298.3) scale(0.9615 1)" font-size="9.672" xml:space="preserve">19646.5</text>
<rect x="1628" y="328" width="2" height="1"/>
<text transform="translate(1633.2 331.3) scale(0.9615 1)" font-size="9.672" xml:space="preserve">19489.0</text>
<rect x="1628" y="361" width="2" height="1"/>
<text transform="translate(1633.2 364.3) scale(0.9615 1)" font-size="9.672" xml:space="preserve">19327.0</text>
<rect x="1628" y="394" width="2" height="1"/>
<text transform="translate(1633.2 397.3) scale(0.9615 1)" font-size="9.672" xml:space="preserve">19169.5</text>
<rect x="1628" y="427" width="2" height="1"/>
<text transform="translate(1633.2 430.3) scale(0.9615 1)" font-size="9.672" xml:space="preserve">19012.0</text>
<rect x="1628" y="460" width="2" height="1"/>
<text transform="translate(1633.2 463.3) scale(0.9615 1)" font-size="9.672" xml:space="preserve">18850.0</text>
<rect x="1628" y="493" width="2" height="1"/>
<text transform="translate(1633.2 496.3) scale(0.9615 1)" font-size="9.672" xml:space="preserve">18692.5</text>
<rect x="1628" y="526" width="2" height="1"/>
<text transform="translate(1633.2 529.3) scale(0.9615 1)" font-size="9.672" xml:space="preserve">18535.0</text>
<rect x="1628" y="559" width="2" height="1"/>
<text transform="translate(1633.2 562.3) scale(0.9615 1)" font-size="9.672" xml:space="preserve">18377.5</text>
<rect x="1628" y="592" width="2" height="1"/>
<text transform="translate(1633.2 595.3) scale(0.9615 1)" font-size="9.672" xml:space="preserve">18215.5</text>
<rect x="1628" y="625" width="2" height="1"/>
<text transform="translate(1633.2 628.3) scale(0.9615 1)" font-size="9.672" xml:space="preserve">18058.0</text>
<rect x="1628" y="658" width="2" height="1"/>
<text transform="translate(1633.2 661.3) scale(0.9615 1)" font-size="9.672" xml:space="preserve">17900.5</text>
<rect x="1628" y="755" width="2" height="1"/>
<text transform="translate(1631 674.2) scale(0.9615 1)" font-size="9.672" xml:space="preserve">332.06</text>
<text transform="translate(1631 758.6) scale(0.9615 1)" font-size="9.672" xml:space="preserve">0.00</text>
<text transform="translate(1631 873.8) scale(0.9615 1)" font-size="9.672" xml:space="preserve">-446.36</text>
<rect x="1629" y="278" width="41" height="11" fill="#000"/>
<text transform="translate(1633.2 286.7) scale(0.9615 1)" font-size="9.672" xml:space="preserve" style="fill:#fff;stroke:#fff">19700.0</text>
<rect x="1629" y="340" width="41" height="11" fill="#000"/>
<text transform="translate(1633.2 348.7) scale(0.9615 1)" font-size="9.672" xml:space="preserve" style="fill:#fff;stroke:#fff">19400.0</text>
<rect x="1629" y="373" width="41" height="11" fill="#000"/>
<text transform="translate(1633.2 381.7) scale(0.9615 1)" font-size="9.672" xml:space="preserve" style="fill:#fff;stroke:#fff">19248.5</text>
<rect x="1629" y="423" width="41" height="11" fill="#0000cd"/>
<text transform="translate(1633.2 431.7) scale(0.9615 1)" font-size="9.672" xml:space="preserve" style="fill:#fff;stroke:#fff">19000.0</text>
<rect x="5" y="878" width="1" height="3"/>
<text transform="translate(4.1 890.4) scale(0.9615 1)" font-size="9.984" xml:space="preserve">17 Apr 2023</text>
<rect x="69" y="878" width="1" height="3"/>
<text transform="translate(68.1 890.4) scale(0.9615 1)" font-size="9.984" xml:space="preserve">21 Apr 01:15</text>
<rect x="133" y="878" width="1" height="3"/>
<text transform="translate(132.1 890.4) scale(0.9615 1)" font-size="9.984" xml:space="preserve">27 Apr 01:15</text>
<rect x="197" y="878" width="1" height="3"/>
<text transform="translate(196.1 890.4) scale(0.9615 1)" font-size="9.984" xml:space="preserve">4 May 01:15</text>
<rect x="261" y="878" width="1" height="3"/>
<text transform="translate(260.1 890.4) scale(0.9615 1)" font-size="9.984" xml:space="preserve">10 May 01:15</text>
<rect x="325" y="878" width="1" height="3"/>
<text transform="translate(324.1 890.4) scale(0.9615 1)" font-size="9.984" xml:space="preserve">16 May 01:15</text>
<rect x="389" y="878" width="1" height="3"/>
<text transform="translate(388.1 890.4) scale(0.9615 1)" font-size="9.984" xml:space="preserve">22 May 01:15</text>
<rect x="453" y="878" width="1" height="3"/>
<text transform="translate(452.1 890.4) scale(0.9615 1)" font-size="9.984" xml:space="preserve">29 May 01:15</text>
<rect x="517" y="878" width="1" height="3"/>
<text transform="translate(516.1 890.4) scale(0.9615 1)" font-size="9.984" xml:space="preserve">2 Jun 01:15</text>
<rect x="581" y="878" width="1" height="3"/>
<text transform="translate(580.1 890.4) scale(0.9615 1)" font-size="9.984" xml:space="preserve">8 Jun 01:15</text>
<rect x="645" y="878" width="1" height="3"/>
<text transform="translate(644.1 890.4) scale(0.9615 1)" font-size="9.984" xml:space="preserve">14 Jun 01:15</text>
<rect x="709" y="878" width="1" height="3"/>
<text transform="translate(708.1 890.4) scale(0.9615 1)" font-size="9.984" xml:space="preserve">20 Jun 01:15</text>
<rect x="773" y="878" width="1" height="3"/>
<text transform="translate(772.1 890.4) scale(0.9615 1)" font-size="9.984" xml:space="preserve">27 Jun 01:15</text>
<rect x="837" y="878" width="1" height="3"/>
<text transform="translate(836.1 890.4) scale(0.9615 1)" font-size="9.984" xml:space="preserve">3 Jul 01:15</text>
<rect x="901" y="878" width="1" height="3"/>
<text transform="translate(900.1 890.4) scale(0.9615 1)" font-size="9.984" xml:space="preserve">7 Jul 01:15</text>
<rect x="965" y="878" width="1" height="3"/>
<text transform="translate(964.1 890.4) scale(0.9615 1)" font-size="9.984" xml:space="preserve">13 Jul 01:15</text>
<rect x="1029" y="878" width="1" height="3"/>
<text transform="translate(1028.1 890.4) scale(0.9615 1)" font-size="9.984" xml:space="preserve">19 Jul 05:00</text>
<rect x="1093" y="878" width="1" height="3"/>
<text transform="translate(1092.1 890.4) scale(0.9615 1)" font-size="9.984" xml:space="preserve">25 Jul 05:00</text>
<rect x="1157" y="878" width="1" height="3"/>
<text transform="translate(1156.1 890.4) scale(0.9615 1)" font-size="9.984" xml:space="preserve">31 Jul 05:00</text>
<rect x="1221" y="878" width="1" height="3"/>
<text transform="translate(1220.1 890.4) scale(0.9615 1)" font-size="9.984" xml:space="preserve">4 Aug 05:00</text>
<rect x="1285" y="878" width="1" height="3"/>
<text transform="translate(1284.1 890.4) scale(0.9615 1)" font-size="9.984" xml:space="preserve">10 Aug 05:00</text>
<path d="M8 11H15L11.5 15Z" shape-rendering="auto"/>
<text transform="translate(20.3 15.6) scale(0.9615 1)" font-size="9.672" xml:space="preserve">HK50-,H4  19060.5 19334.5 19043.5 19248.5</text>
<text transform="translate(8.8 675.5) scale(0.9615 1)" font-size="9.88" xml:space="preserve">MACD(12,26,9) -56.40 26.55</text>
<g shape-rendering="auto"><line x1="1293.7" y1="353.3" x2="1322.5" y2="450" stroke="#ff0000" stroke-width="6" stroke-linecap="round"/><path d="M1310.8 454.2L1333.8 446.7L1332.5 483.3Z" fill="#ff0000"/></g>
</svg></body></html>
